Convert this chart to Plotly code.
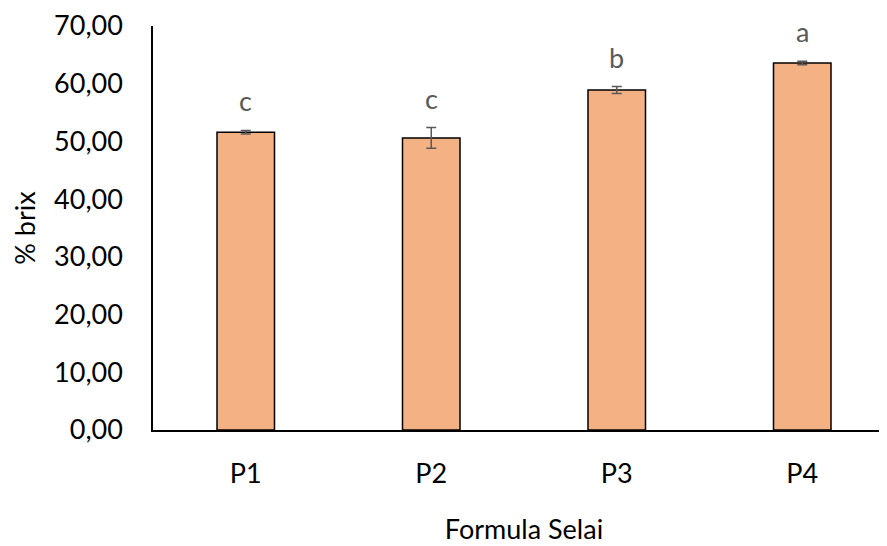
import plotly.graph_objects as go

categories = ["P1", "P2", "P3", "P4"]
values = [51.6, 50.6, 58.9, 63.6]
errors = [0.3, 1.8, 0.6, 0.3]
letters = ["c", "c", "b", "a"]
y_ticks = [0, 10, 20, 30, 40, 50, 60, 70]
y_tick_labels = ["0,00", "10,00", "20,00", "30,00", "40,00", "50,00", "60,00", "70,00"]

FONT = "Lato"
FS = 27

fig = go.Figure()
fig.add_trace(go.Bar(
    x=categories, y=values,
    marker=dict(color="#F4B183", line=dict(color="black", width=1.5)),
    width=0.31,
    error_y=dict(type="data", array=errors, visible=True, color="#595959", thickness=1.5, width=5),
    showlegend=False,
))

for c, v, e, l in zip(categories, values, errors, letters):
    fig.add_annotation(x=c, y=v + e, text=l, showarrow=False, yanchor="bottom", yshift=11,
                       font=dict(family=FONT, size=FS, color="#595959"))

fig.update_layout(
    width=887, height=546,
    margin=dict(l=145, r=0, t=18, b=124),
    plot_bgcolor="white", paper_bgcolor="white",
    font=dict(family=FONT, size=FS, color="black"),
)
fig.update_yaxes(range=[0, 70], tickvals=y_ticks, ticktext=y_tick_labels,
                 showline=True, linecolor="black", linewidth=1.5, showgrid=False,
                 zeroline=False, ticks="", ticklabelstandoff=23, automargin=False,
                 title=dict(text="% brix", font=dict(family=FONT, size=FS), standoff=12),
                 tickfont=dict(family=FONT, size=FS))
fig.update_xaxes(showline=True, linecolor="black", linewidth=1.5, showgrid=False,
                 ticks="", ticklabelstandoff=19, automargin=False,
                 tickfont=dict(family=FONT, size=FS),
                 title=dict(text="Formula Selai", font=dict(family=FONT, size=FS), standoff=32))

fig.write_html("out.html")
